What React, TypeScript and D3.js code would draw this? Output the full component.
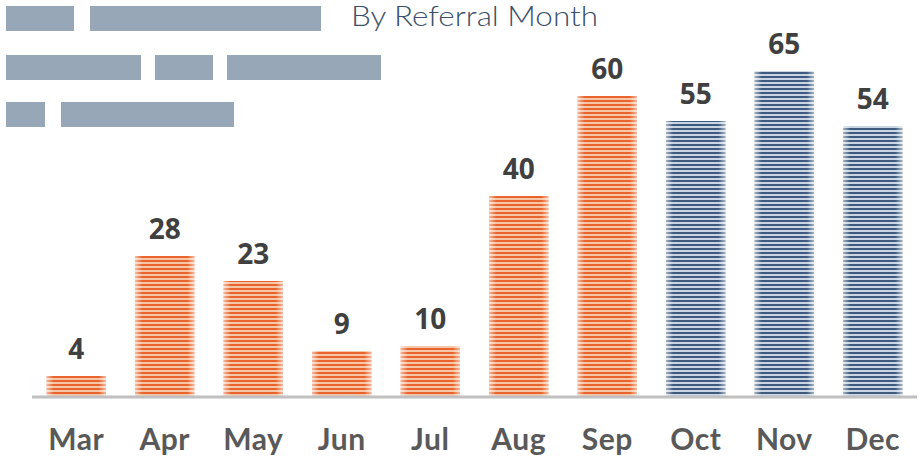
import React from "react";
import * as d3 from "d3";

const months = ["Mar", "Apr", "May", "Jun", "Jul", "Aug", "Sep", "Oct", "Nov", "Dec"];
const values = [4, 28, 23, 9, 10, 40, 60, 55, 65, 54];
const groups = ["orange", "orange", "orange", "orange", "orange", "orange", "orange", "blue", "blue", "blue"];
const titleText = "By Referral Month";
// redacted placeholder blocks [row, x0, x1]
const blockRows = [0, 0, 1, 1, 1, 2, 2];
const blockX0 = [6, 90, 6, 155, 227, 6, 61];
const blockX1 = [74, 321, 141, 213, 381, 45, 234];
const rowY = [6, 55, 102];

const W = 923;
const H = 465;

export default function App() {
  const x = d3.scaleBand<string>().domain(months).range([32, 917]).paddingInner(0.33).paddingOuter(0.165);
  const y = d3.scaleLinear().domain([0, 65]).range([396, 71]);
  return (
    <svg width={W} height={H} style={{ position: "absolute", left: 0, top: 0, display: "block" }}>
      <defs>
        <pattern id="pOrange" width="4" height="4" patternUnits="userSpaceOnUse">
          <rect width="4" height="4" fill="#f6c6a9" />
          <rect width="4" height="2" fill="#e8642c" />
        </pattern>
        <pattern id="pBlue" width="4" height="4" patternUnits="userSpaceOnUse">
          <rect width="4" height="4" fill="#c9d5e3" />
          <rect width="4" height="2" fill="#3e5a7e" />
        </pattern>
        <linearGradient id="edge" x1="0" x2="1" y1="0" y2="0">
          <stop offset="0" stopColor="#fff" stopOpacity="0.55" />
          <stop offset="0.12" stopColor="#fff" stopOpacity="0" />
          <stop offset="0.88" stopColor="#fff" stopOpacity="0" />
          <stop offset="1" stopColor="#fff" stopOpacity="0.55" />
        </linearGradient>
      </defs>
      {blockRows.map((r, i) => (
        <rect key={i} x={blockX0[i]} y={rowY[r]} width={blockX1[i] - blockX0[i]} height={25} fill="#97a7b7" />
      ))}
      <text x={351} y={26} fontFamily="Lato, 'Noto Sans', sans-serif" fontWeight={300} fontSize={27} fill="#3b5068" textLength={247} lengthAdjust="spacingAndGlyphs">
        {titleText}
      </text>
      {months.map((m, i) => {
        const bx = x(m)!;
        const bw = x.bandwidth();
        const top = y(values[i]);
        const h = y(0) - top;
        return (
          <g key={m}>
            <rect x={bx} y={top} width={bw} height={h} fill={groups[i] === "orange" ? "url(#pOrange)" : "url(#pBlue)"} />
            <rect x={bx} y={top} width={bw} height={h} fill="url(#edge)" />
            <text x={bx + bw / 2} y={top - 17} textAnchor="middle" fontFamily="'Open Sans', sans-serif" fontWeight={700} fontSize={28} fill="#404040">
              {values[i]}
            </text>
            <text x={bx + bw / 2} y={450} textAnchor="middle" fontFamily="Lato, sans-serif" fontWeight={700} fontSize={30} letterSpacing={0.5} fill="#595959">
              {m}
            </text>
          </g>
        );
      })}
      <line x1={32} x2={917} y1={397} y2={397} stroke="#c0c0c0" strokeWidth={3} />
    </svg>
  );
}
